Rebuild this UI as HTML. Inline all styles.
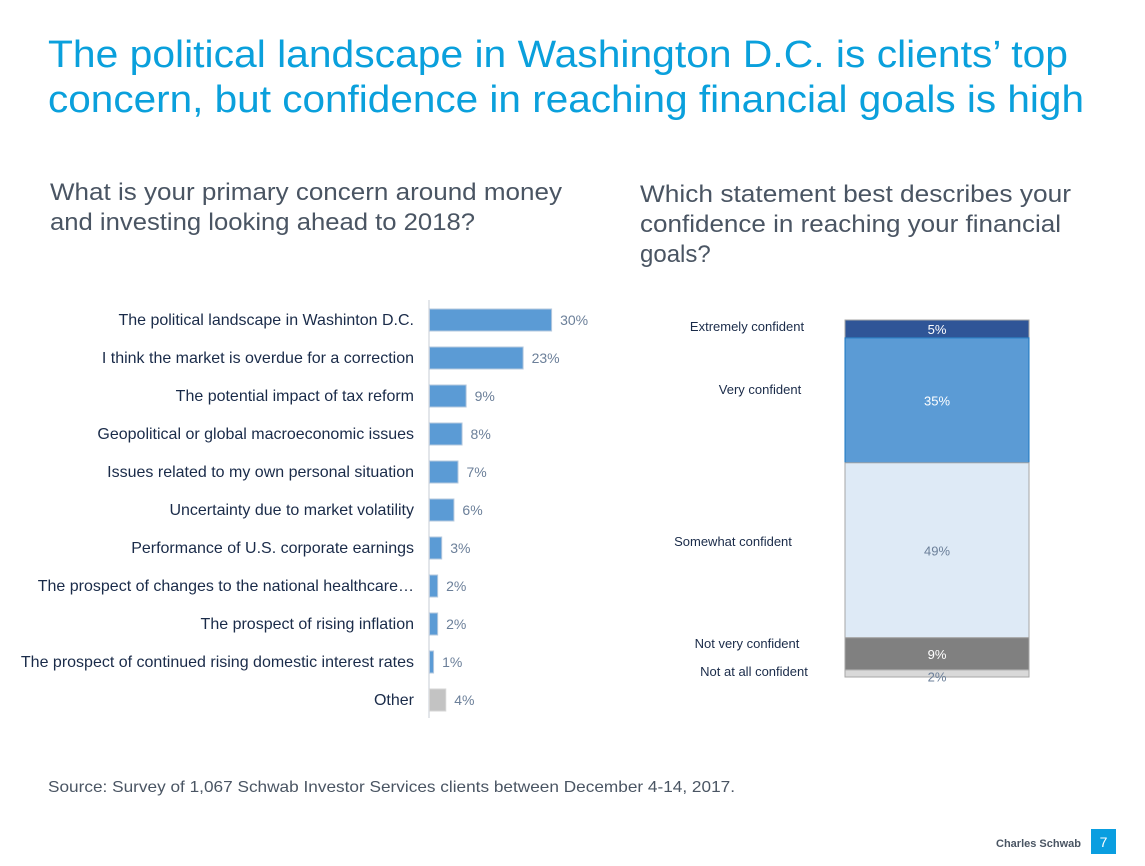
<!DOCTYPE html>
<html><head><meta charset="utf-8"><style>
html,body{margin:0;padding:0;background:#fff;}
svg{display:block;font-family:"Liberation Sans",sans-serif;}
</style></head><body>
<svg id="c" width="1145" height="866" viewBox="0 0 1145 866">
<text x="48" y="67" font-size="38" fill="#0aa0dc" textLength="1020" lengthAdjust="spacingAndGlyphs">The political landscape in Washington D.C. is clients’ top</text>
<text x="48" y="112" font-size="38" fill="#0aa0dc" textLength="1036" lengthAdjust="spacingAndGlyphs">concern, but confidence in reaching financial goals is high</text>
<text x="50" y="200" font-size="24" fill="#4a5563" textLength="512" lengthAdjust="spacingAndGlyphs">What is your primary concern around money</text>
<text x="50" y="230" font-size="24" fill="#4a5563" textLength="425" lengthAdjust="spacingAndGlyphs">and investing looking ahead to 2018?</text>
<text x="640" y="202" font-size="24" fill="#4a5563" textLength="431" lengthAdjust="spacingAndGlyphs">Which statement best describes your</text>
<text x="640" y="232" font-size="24" fill="#4a5563" textLength="421" lengthAdjust="spacingAndGlyphs">confidence in reaching your financial</text>
<text x="640" y="262" font-size="24" fill="#4a5563">goals?</text>
<line x1="429" y1="300" x2="429" y2="718" stroke="#e3e6ea" stroke-width="2"/>
<g id="bars"></g>
<g id="stack"></g>
<text x="48" y="792" font-size="16" fill="#4a5563" textLength="687" lengthAdjust="spacingAndGlyphs">Source: Survey of 1,067 Schwab Investor Services clients between December 4-14, 2017.</text>
<text x="1081" y="847" font-size="11" font-weight="bold" fill="#4a5563" text-anchor="end">Charles Schwab</text>
<rect x="1091" y="829" width="25" height="25" fill="#0a9ee0"/>
<text x="1103.5" y="847" font-size="14" fill="#fff" text-anchor="middle">7</text>
</svg>
<script>
const concernLabels=["The political landscape in Washinton D.C.","I think the market is overdue for a correction","The potential impact of tax reform","Geopolitical or global macroeconomic issues","Issues related to my own personal situation","Uncertainty due to market volatility","Performance of U.S. corporate earnings","The prospect of changes to the national healthcare…","The prospect of rising inflation","The prospect of continued rising domestic interest rates","Other"];
const concernValues=[30,23,9,8,7,6,3,2,2,1,4];
const confLabels=["Extremely confident","Very confident","Somewhat confident","Not very confident","Not at all confident"];
const confValues=[5,35,49,9,2];

const NS="http://www.w3.org/2000/svg";
function mk(tag,attrs,parent,txt){const e=document.createElementNS(NS,tag);for(const k in attrs)e.setAttribute(k,attrs[k]);if(txt!==undefined)e.textContent=txt;parent.appendChild(e);return e;}
const x0=429,pxPer=4.07,rowY=(i)=>320+i*38,barH=22;
const xs=(v)=>v*pxPer;
const gb=document.getElementById('bars');
concernLabels.forEach((lab,i)=>{
  const v=concernValues[i],cy=rowY(i);
  const other=lab==="Other";
  const t=mk('text',{x:414,y:cy+5,'font-size':16,fill:'#1a2b49','text-anchor':'end'},gb,lab);
  
  
  const r=mk('rect',{x:x0+0.5,y:cy-barH/2,width:Math.max(xs(v),2),height:barH,fill:other?'#c3c3c3':'#5b9bd5',stroke:other?'#d6d6d6':'#b5c8de','stroke-width':1},gb);
  
  
  const vt=mk('text',{x:x0+xs(v)+9,y:cy+5,'font-size':14,fill:'#6b7f99'},gb,v+'%');
  
  
});
const gs=document.getElementById('stack');
const sx=845,sw=184,sTop=320,sPer=3.57;
const fills=['#2f5597','#5b9bd5','#deeaf6','#808080','#d9d9d9'];
const txtCol=['#fff','#fff','#6b7f99','#fff','#6b7f99'];
const labX=[747,760,733,747,754];
let acc=0;
confValues.forEach((v,i)=>{
  const y=sTop+acc*sPer,h=v*sPer;acc+=v;
  const r=mk('rect',{x:sx,y:y,width:sw,height:h,fill:fills[i],stroke:i==1?'#1a74c0':'#a6a6a6','stroke-width':1},gs);
  
  
  const vt=mk('text',{x:sx+sw/2,y:y+h/2+5+(i==4?3:0),'font-size':13,fill:txtCol[i],'text-anchor':'middle'},gs,v+'%');
  
  
  const ly=[331,394,546,648,676][i];
  const lt=mk('text',{x:labX[i],y:ly,'font-size':13,fill:'#1a2b49','text-anchor':'middle'},gs,confLabels[i]);
  
  
});
</script>
</body></html>
